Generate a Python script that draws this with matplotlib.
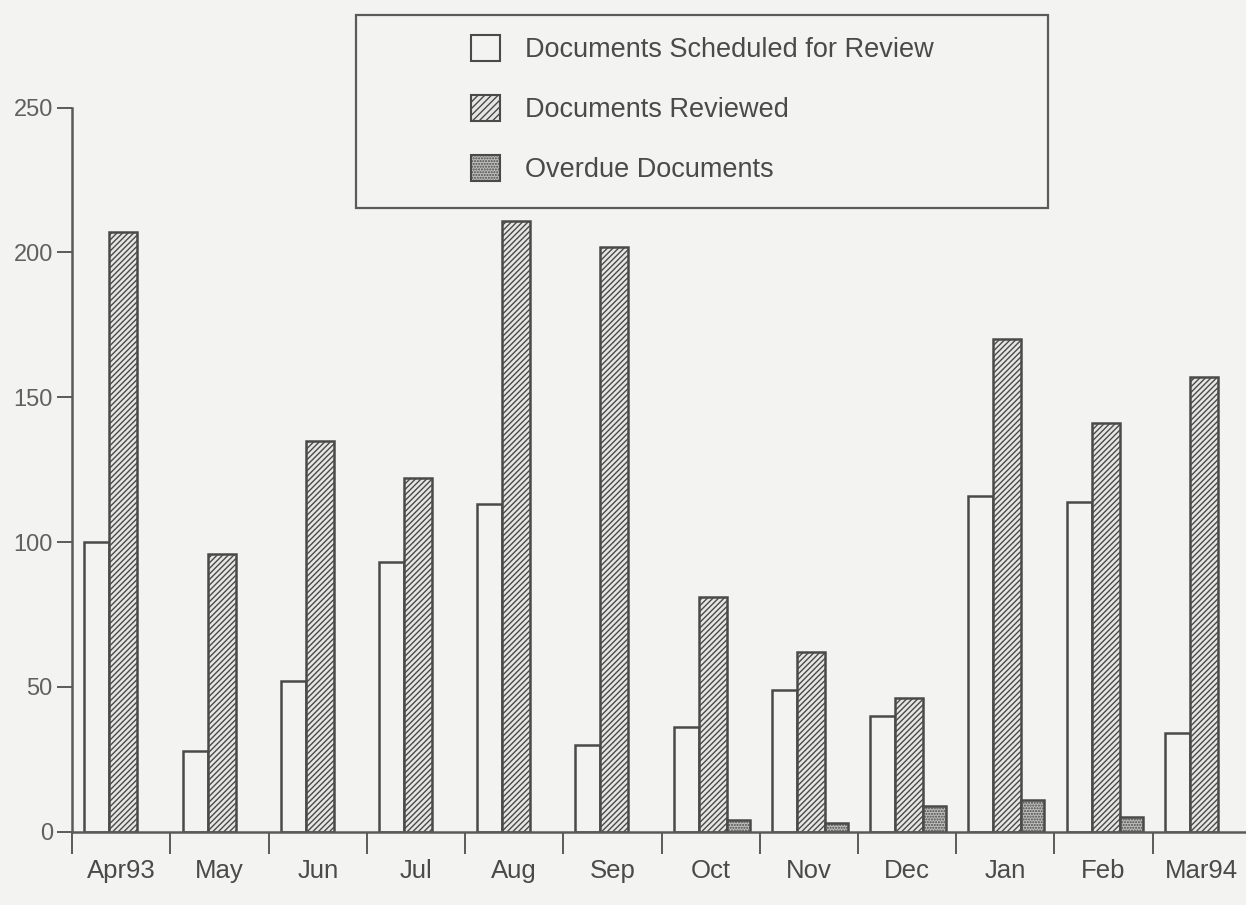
import numpy as np
import matplotlib
matplotlib.use("Agg")
import matplotlib.pyplot as plt
from matplotlib.patches import Patch, Rectangle

months = ["Apr93", "May", "Jun", "Jul", "Aug", "Sep", "Oct", "Nov", "Dec", "Jan", "Feb", "Mar94"]
scheduled = [100, 28, 52, 93, 113, 30, 36, 49, 40, 116, 114, 34]
reviewed = [207, 96, 135, 122, 211, 202, 81, 62, 46, 170, 141, 157]
overdue = [0, 0, 0, 0, 0, 0, 4, 3, 9, 11, 5, 0]

INK, GRAY, BG = "#4a4a4a", "#5a5a5a", "#f3f3f1"
plt.rcParams.update({"font.family": ["Liberation Sans", "DejaVu Sans"], "hatch.linewidth": 1.0,
                     "hatch.color": "#555555"})

fig = plt.figure(figsize=(12.46, 9.05), dpi=100, facecolor=BG)
ax = fig.add_axes([0.058, 0.081, 0.942, 0.80], facecolor=BG)

x = np.arange(len(months))
od = np.array(overdue, dtype=float)
ax.bar(x - 0.25, scheduled, 0.255, color=BG, edgecolor=INK, lw=1.8)
ax.bar(x + 0.02, reviewed, 0.285, color="#e6e6e4", edgecolor=INK, lw=1.8, hatch="//////")
ax.bar(x[od > 0] + 0.28, od[od > 0], 0.235, color="#bdbdbb", edgecolor=INK, lw=1.8, hatch="......")

ax.set_xlim(-0.5, len(months) - 0.55)
ax.set_ylim(0, 250)
ax.set_yticks([0, 50, 100, 150, 200, 250])
ax.set_xticks(np.arange(len(months)) - 0.5)
ax.set_xticklabels([])
ax.set_xticks(x, minor=True)
ax.set_xticklabels(months, minor=True)
ax.tick_params(axis="x", which="major", length=16, width=1.4, color=GRAY, direction="out")
ax.tick_params(axis="x", which="minor", length=0, pad=20, labelsize=18.5, labelcolor=INK)
ax.tick_params(axis="y", length=11, width=1.4, color=GRAY, labelsize=17, labelcolor="#606060", pad=3)
for s in ("top", "right"):
    ax.spines[s].set_visible(False)
for s in ("left", "bottom"):
    ax.spines[s].set_color(GRAY); ax.spines[s].set_linewidth(1.8)

# legend box sits above the plot area
fig.patches.append(Rectangle((356 / 1246, 1 - 208 / 905), 692 / 1246, 193 / 905, transform=fig.transFigure,
                             facecolor=BG, edgecolor=GRAY, lw=1.6, zorder=3))
handles = [Patch(facecolor=BG, edgecolor=INK, lw=1.5),
           Patch(facecolor="#e6e6e4", edgecolor=INK, lw=1.5, hatch="/////"),
           Patch(facecolor="#bdbdbb", edgecolor=INK, lw=1.5, hatch="......")]
labels = ["Documents Scheduled for Review", "Documents Reviewed", "Overdue Documents"]
leg = fig.legend(handles, labels, loc="upper left", bbox_to_anchor=(447 / 1246, 1 - 11 / 905), frameon=False,
                 fontsize=19.5, labelspacing=1.18, handlelength=1.07, handleheight=1.07, handletextpad=0.9,
                 labelcolor=INK)
leg.set_zorder(4)

fig.savefig("out.png", dpi=100, facecolor=BG)
